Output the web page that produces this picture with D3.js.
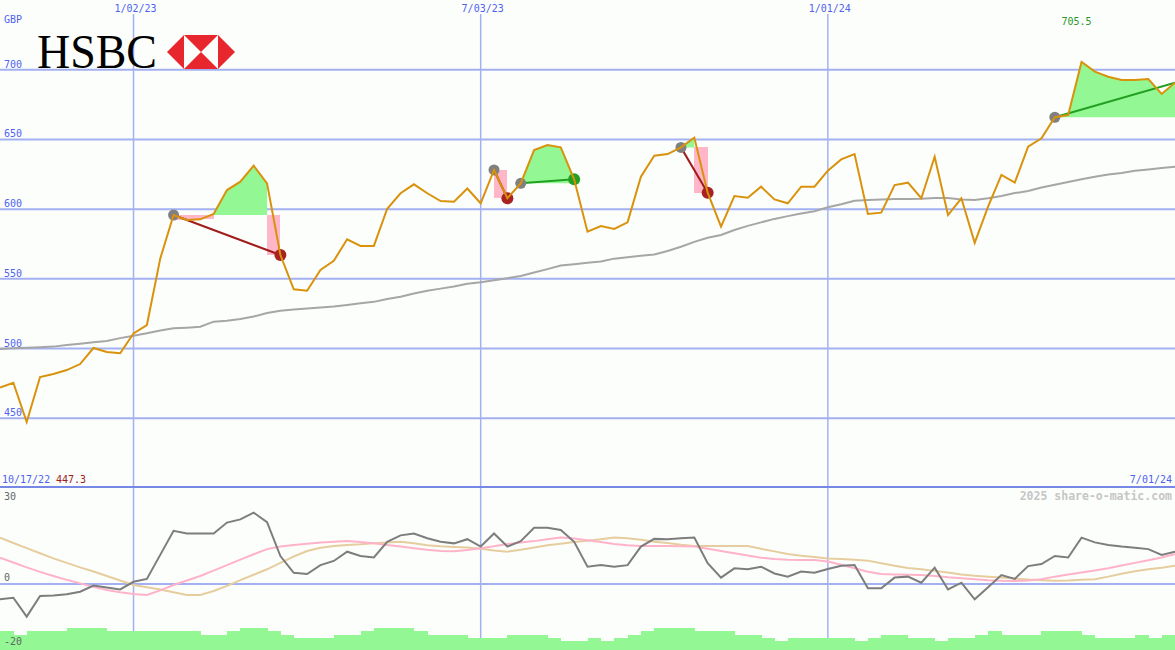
<!DOCTYPE html>
<html>
<head>
<meta charset="utf-8">
<script src="https://cdn.jsdelivr.net/npm/d3@7"></script>
<style>
html,body{margin:0;padding:0;background:#fcfefc;}
svg{display:block;}
</style>
</head>
<body>
<svg id="chart" width="1175" height="650"></svg>
<script>
// ---------- DATA ----------
const dateTickIdx = [10, 36, 62];
const dateTickLabels = ["1/02/23", "7/03/23", "1/01/24"];
const priceTicks = [450, 500, 550, 600, 650, 700];
const oscTicks = [30, 0, -20];
const startLabel = "10/17/22";
const endLabel = "7/01/24";
const lowLabel = "447.3";
const highLabel = "705.5";

const price = [472.0, 475.5, 447.3, 479.6, 481.8, 484.6, 488.9, 500.4, 497.5, 496.6,
  510.9, 516.9, 564.5, 595.8, 592.2, 592.7, 596.5, 613.7, 619.7, 631.2,
  618.5, 567.1, 542.5, 541.5, 556.4, 563.0, 578.4, 573.6, 573.6, 600.3,
  611.4, 617.8, 611.4, 605.8, 605.3, 614.8, 604.2, 628.1, 607.8, 618.5,
  642.4, 646.0, 644.3, 621.4, 583.8, 587.9, 585.8, 590.5, 623.3, 638.3,
  639.5, 644.3, 651.3, 611.8, 587.4, 609.4, 608.2, 616.1, 607.0, 604.2,
  616.1, 616.1, 627.6, 635.7, 639.5, 596.5, 597.5, 617.3, 619.0, 607.8,
  637.6, 595.8, 607.8, 575.9, 601.8, 624.5, 619.0, 644.8, 650.8, 665.9,
  667.5, 705.5, 698.6, 695.0, 692.6, 692.6, 693.3, 682.6, 690.7];

const movingAvg = [499.7, 500.2, 500.5, 501.0, 501.4, 502.5, 503.5, 504.5, 505.5, 507.5,
  509.2, 511.0, 513.0, 514.5, 515.0, 515.7, 519.3, 520.0, 521.2, 523.0,
  525.5, 527.2, 528.0, 528.7, 529.5, 530.1, 531.3, 532.5, 533.5, 535.5,
  537.2, 539.5, 541.5, 543.0, 544.5, 546.5, 547.5, 549.0, 550.5, 552.0,
  554.5, 557.0, 559.5, 560.5, 561.5, 562.5, 564.5, 565.5, 566.5, 567.5,
  570.0, 573.0, 576.5, 579.5, 581.5, 585.0, 588.0, 590.5, 593.0, 595.0,
  596.8, 598.5, 601.3, 603.5, 606.0, 606.5, 607.0, 607.2, 607.3, 607.5,
  608.0, 608.0, 607.0, 606.6, 607.8, 609.5, 611.5, 613.0, 615.5, 617.5,
  619.5, 621.5, 623.3, 624.8, 626.0, 627.5, 628.5, 629.5, 630.4];

const oscGray = [-4.8, -4.3, -10.2, -3.75, -3.6, -3.2, -2.4, -0.5, -1.1, -1.7,
  0.7, 1.6, 9.1, 16.6, 15.8, 15.8, 15.8, 19.2, 20.2, 22.3,
  19.3, 8.75, 3.5, 3.1, 5.9, 7.2, 10.1, 8.75, 8.3, 13.2,
  15.2, 15.8, 14.3, 13.2, 12.7, 14.0, 11.7, 15.8, 11.7, 13.4,
  17.6, 17.6, 16.9, 13.2, 5.4, 5.9, 5.4, 5.9, 11.7, 14.1,
  14.0, 14.3, 14.5, 6.5, 2.0, 4.9, 4.6, 5.4, 3.3, 2.3,
  3.9, 3.5, 4.7, 5.7, 5.9, -1.35, -1.35, 2.0, 2.3, 0.4,
  5.1, -1.7, 0.4, -4.8, -1.0, 2.8, 1.6, 5.6, 6.25, 8.75,
  8.3, 14.5, 13.0, 12.2, 11.7, 11.35, 10.9, 9.1, 10.1];

const oscPink = [8.2, 6.7, 5.2, 3.8, 2.5, 1.3, 0.2, -0.9, -1.9, -2.6,
  -3.1, -3.4, -2.0, -0.3, 1.1, 2.5, 4.2, 5.9, 7.6, 9.3,
  10.9, 11.7, 12.2, 12.6, 13.0, 13.2, 13.4, 13.1, 12.7, 12.2,
  11.7, 11.2, 10.7, 10.3, 10.2, 10.6, 11.2, 11.8, 12.5, 13.0,
  13.4, 14.0, 14.5, 14.2, 13.7, 13.1, 12.5, 12.1, 11.9, 11.9,
  11.9, 11.8, 11.7, 11.0, 10.3, 9.6, 8.9, 8.2, 7.8, 7.6,
  7.5, 7.5, 7.0, 6.0, 4.9, 3.8, 3.1, 3.0, 2.9, 2.8,
  2.5, 2.1, 1.8, 1.5, 1.2, 1.0, 0.95, 1.1, 1.5, 2.3,
  3.0, 3.6, 4.2, 4.9, 5.8, 6.6, 7.4, 8.3, 9.3];

const oscTan = [14.5, 12.8, 11.2, 9.6, 8.0, 6.6, 5.2, 3.9, 2.5, 1.1,
  -0.3, -1.0, -1.7, -2.6, -3.4, -3.4, -2.2, -0.6, 1.2, 2.9,
  4.6, 6.6, 8.6, 10.3, 11.3, 11.9, 12.2, 12.4, 12.7, 13.0,
  13.2, 12.7, 12.1, 11.8, 11.6, 11.4, 11.0, 10.5, 10.1, 10.7,
  11.4, 12.1, 12.6, 13.1, 13.5, 14.0, 14.5, 14.3, 13.8, 13.2,
  12.8, 12.3, 11.9, 11.9, 11.9, 11.9, 11.9, 11.0, 10.2, 9.4,
  8.8, 8.4, 8.0, 7.8, 7.6, 7.3, 6.5, 5.7, 5.0, 4.6,
  4.1, 3.6, 3.0, 2.6, 2.3, 2.0, 1.7, 1.4, 1.2, 1.0,
  1.1, 1.3, 1.5, 2.3, 3.2, 4.0, 4.6, 5.1, 5.7];

const volume = [85, 67, 85, 85, 85, 100, 100, 100, 85, 85,
  85, 85, 85, 85, 85, 67, 67, 85, 100, 100,
  85, 67, 55, 55, 55, 67, 67, 85, 100, 100,
  100, 85, 67, 67, 67, 55, 55, 55, 67, 67,
  67, 55, 40, 40, 55, 40, 55, 67, 85, 100,
  100, 100, 85, 85, 85, 67, 67, 55, 40, 55,
  55, 55, 55, 55, 40, 55, 67, 67, 55, 55,
  40, 55, 55, 67, 85, 67, 67, 67, 85, 85,
  85, 67, 55, 55, 55, 67, 55, 67];

const tradeEntry = [13, 37, 39, 51, 79];
const tradeExit = [21, 38, 43, 53, 88];
const tradeOpen = [false, false, false, false, true];

// ---------- SCALES ----------
const W = 1175, H = 650;
const svg = d3.select("#chart");
const x = d3.scaleLinear().domain([0, price.length - 1]).range([0, W]);
const y = d3.scaleLinear().domain([400, 750]).range([488, 0]);
const yo = d3.scaleLinear().domain([-20.625, 30]).range([650, 488]);
const yv = d3.scaleLinear().domain([0, 100]).range([650, 627.7]);

const GRID = "#a3b1f2";
const BLUE_TXT = "#4f62f0";
const mono = "'DejaVu Sans Mono', monospace";

svg.append("rect").attr("width", W).attr("height", H).attr("fill", "#fcfefc");

// ---------- GRID ----------
svg.append("g").selectAll("line").data(priceTicks).join("line")
  .attr("x1", 0).attr("x2", W)
  .attr("y1", d => y(d)).attr("y2", d => y(d))
  .attr("stroke", GRID).attr("stroke-width", 2);

svg.append("g").selectAll("line").data(dateTickIdx).join("line")
  .attr("x1", d => x(d)).attr("x2", d => x(d))
  .attr("y1", 14).attr("y2", H)
  .attr("stroke", GRID).attr("stroke-width", 1.5);

svg.append("line").attr("x1", 0).attr("x2", W)
  .attr("y1", yo(0)).attr("y2", yo(0))
  .attr("stroke", GRID).attr("stroke-width", 2);

svg.append("line").attr("x1", 0).attr("x2", W)
  .attr("y1", 487).attr("y2", 487)
  .attr("stroke", "#7787e6").attr("stroke-width", 2);

// ---------- TRADE FILLS ----------
const fillG = svg.append("g");
tradeEntry.forEach((e, k) => {
  const ex = tradeExit[k];
  const lvl = price[e];
  let run = null;
  const flush = () => {
    if (run && run.length) {
      const pts = [[x(run[0]), y(lvl)]];
      run.forEach(i => pts.push([x(i), y(price[i])]));
      pts.push([x(run[run.length - 1]), y(lvl)]);
      fillG.append("path").attr("d", d3.line()(pts) + "Z").attr("fill", "#93f793");
    }
    run = null;
  };
  for (let i = e; i < ex; i++) {
    const p0 = price[i], p1 = price[i + 1];
    const mn = Math.min(p0, p1);
    if (mn < lvl) {
      flush();
      fillG.append("rect")
        .attr("x", x(i)).attr("width", x(i + 1) - x(i))
        .attr("y", y(lvl)).attr("height", y(mn) - y(lvl))
        .attr("shape-rendering", "crispEdges")
        .attr("fill", "#ffb6c8");
    } else {
      if (!run) run = [i];
      run.push(i + 1);
    }
  }
  flush();
});

// ---------- VOLUME ----------
svg.append("g").attr("shape-rendering", "crispEdges").selectAll("rect").data(volume).join("rect")
  .attr("x", (d, i) => x(i)).attr("width", (d, i) => x(i + 1) - x(i) + 0.5)
  .attr("y", d => yv(d)).attr("height", d => yv(0) - yv(d))
  .attr("fill", "#93f793");

// ---------- OSCILLATORS ----------
const lo = d3.line().x((d, i) => x(i)).y(d => yo(d));
svg.append("path").attr("d", lo(oscTan)).attr("fill", "none").attr("stroke", "#e6cd9e").attr("stroke-width", 2);
svg.append("path").attr("d", lo(oscPink)).attr("fill", "none").attr("stroke", "#ffb3c8").attr("stroke-width", 2);
svg.append("path").attr("d", lo(oscGray)).attr("fill", "none").attr("stroke", "#7d7d7d").attr("stroke-width", 2);

// ---------- MOVING AVERAGE ----------
const lp = d3.line().x((d, i) => x(i)).y(d => y(d));
svg.append("path").attr("d", lp(movingAvg)).attr("fill", "none").attr("stroke", "#a6a6a6").attr("stroke-width", 2);

// ---------- TRADE LINES & MARKERS ----------
const tg = svg.append("g");
tradeEntry.forEach((e, k) => {
  const ex = tradeExit[k];
  const win = price[ex] > price[e];
  const col = win ? "#22a022" : "#a01c1c";
  tg.append("line")
    .attr("x1", x(e)).attr("y1", y(price[e]))
    .attr("x2", x(ex)).attr("y2", y(price[ex]))
    .attr("stroke", col).attr("stroke-width", 2);
  tg.append("circle").attr("cx", x(e)).attr("cy", y(price[e])).attr("r", 5.5).attr("fill", "#808080");
  if (!tradeOpen[k]) {
    tg.append("circle").attr("cx", x(ex)).attr("cy", y(price[ex])).attr("r", 6)
      .attr("fill", win ? "#22a022" : "#a82222");
  }
});

// ---------- PRICE LINE ----------
svg.append("path").attr("d", lp(price)).attr("fill", "none")
  .attr("stroke", "#d9920c").attr("stroke-width", 2).attr("stroke-linejoin", "miter");

// ---------- TEXT ----------
const txt = svg.append("g").attr("font-family", mono).attr("font-size", 10);
txt.append("text").attr("x", 4).attr("y", 23).attr("fill", BLUE_TXT).text("GBP");
txt.selectAll(".pt").data(priceTicks).join("text").attr("class", "pt")
  .attr("x", 4).attr("y", d => y(d) - 2).attr("fill", BLUE_TXT).text(d => d);
txt.selectAll(".dt").data(dateTickIdx).join("text").attr("class", "dt")
  .attr("x", d => x(d) + 2).attr("y", 12).attr("text-anchor", "middle")
  .attr("fill", BLUE_TXT).text((d, i) => dateTickLabels[i]);
txt.append("text").attr("x", 2).attr("y", 483).attr("fill", BLUE_TXT).text(startLabel);
txt.append("text").attr("x", 56).attr("y", 483).attr("fill", "#a01c1c").text(lowLabel);
txt.append("text").attr("x", W - 3).attr("y", 483).attr("text-anchor", "end").attr("fill", BLUE_TXT).text(endLabel);
const hiIdx = price.indexOf(d3.max(price));
txt.append("text").attr("x", x(hiIdx) - 5).attr("y", 25).attr("text-anchor", "middle")
  .attr("fill", "#2a962a").text(highLabel);
txt.append("text").attr("x", W - 3).attr("y", 500).attr("text-anchor", "end")
  .attr("font-size", 11.5).attr("font-weight", "bold").attr("fill", "#c6c6c6")
  .text("2025 share-o-matic.com");
txt.selectAll(".ot").data(oscTicks).join("text").attr("class", "ot")
  .attr("x", 4).attr("y", d => d === 30 ? 500 : yo(d) - 3)
  .attr("fill", "#666").text(d => d);

// ---------- LOGO ----------
svg.append("text").attr("x", 37).attr("y", 68)
  .attr("font-family", "'Liberation Serif', 'Times New Roman', serif")
  .attr("font-size", 48).attr("textLength", 120).attr("lengthAdjust", "spacingAndGlyphs")
  .attr("fill", "#000").text("HSBC");
const lg = svg.append("g");
const L = 167, R = 235, T = 35, B = 69, M = (T + B) / 2, SL = 184, SR = 218, C = (SL + SR) / 2;
lg.append("polygon").attr("points", `${L},${M} ${SL},${T} ${SL},${B}`).attr("fill", "#e8262e");
lg.append("polygon").attr("points", `${R},${M} ${SR},${T} ${SR},${B}`).attr("fill", "#e8262e");
lg.append("polygon").attr("points", `${SL},${T} ${SR},${T} ${C},${M}`).attr("fill", "#e8262e");
lg.append("polygon").attr("points", `${SL},${B} ${SR},${B} ${C},${M}`).attr("fill", "#e8262e");
</script>
</body>
</html>
